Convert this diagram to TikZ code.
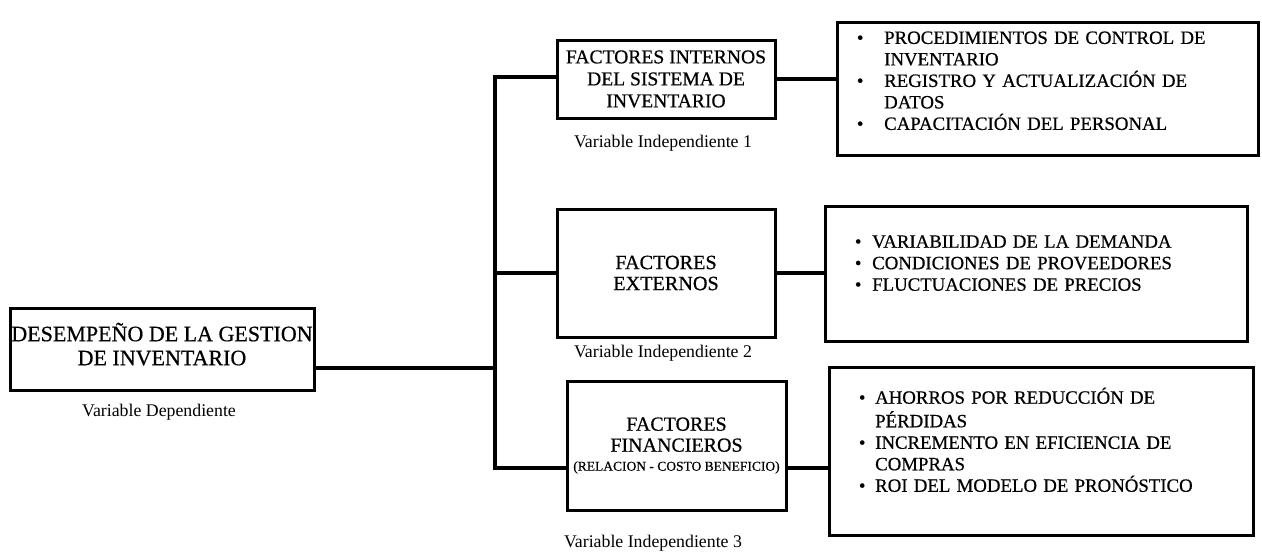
\documentclass[tikz,border=0pt]{standalone}
\usepackage{fontspec}
\setmainfont{Liberation Serif}
\newfontfamily\capsfont[FakeBold=0.6]{Liberation Serif}

\newlength{\bulhang}
\newcommand{\bul}[1]{\par\hangindent=\bulhang\hangafter=1\noindent\makebox[\bulhang][l]{\strut\textbullet}#1}

\tikzset{
    box/.style={draw, line width=3pt, inner sep=0pt, align=center},
    conn/.style={line width=4pt},
    listtext/.style={anchor=north west, inner sep=0pt, text width=390pt, align=left,
        font=\capsfont\fontsize{18.8}{21.5}\selectfont},
    varlabel/.style={font=\fontsize{17.8}{20}\selectfont}
}

\begin{document}
\begin{tikzpicture}[x=1pt, y=-1pt]
    \useasboundingbox (0,0) rectangle (1262,558);

    % dependiente
    \node[box, minimum width=304pt, minimum height=82pt, text depth=10pt, font=\capsfont\fontsize{22}{24}\selectfont]
        (main) at (162, 349) {DESEMPEÑO DE LA GESTION\\DE INVENTARIO};
    \node[varlabel] (lbl0) at (159, 412) {Variable Dependiente};

    % independientes
    \node[box, minimum width=218pt, minimum height=78pt, font=\capsfont\fontsize{19.6}{22}\selectfont]
        (box1) at (666, 79) {FACTORES INTERNOS\\DEL SISTEMA DE\\INVENTARIO};
    \node[varlabel] (lbl1) at (663, 143) {Variable Independiente 1};

    \node[box, minimum width=218pt, minimum height=128pt, font=\capsfont\fontsize{20.2}{21}\selectfont]
        (box2) at (666, 273) {FACTORES\\EXTERNOS};
    \node[varlabel] (lbl2) at (663, 353) {Variable Independiente 2};

    \node[box, minimum width=219pt, minimum height=129pt, font=\capsfont\fontsize{20}{21}\selectfont]
        (box3) at (676.5, 445.5) {FACTORES\\FINANCIEROS\\[-2pt]{\fontsize{13.5}{15}\selectfont (RELACION - COSTO BENEFICIO)}};
    \node[varlabel] (lbl3) at (653, 543) {Variable Independiente 3};

    % indicadores
    \node[box, minimum width=421pt, minimum height=133pt] (list1) at (1047.5, 88.5) {};
    \node[box, minimum width=422pt, minimum height=135pt] (list2) at (1036, 273.5) {};
    \node[box, minimum width=424pt, minimum height=168pt] (list3) at (1041, 451) {};

    \setlength{\bulhang}{27.3pt}
    \node[listtext] (txt1) at (856.7, 22.2) {%
        \bul{PROCEDIMIENTOS DE CONTROL DE\newline INVENTARIO}
        \bul{REGISTRO Y ACTUALIZACIÓN DE\newline DATOS}
        \bul{CAPACITACIÓN DEL PERSONAL}};
    \setlength{\bulhang}{17.3pt}
    \node[listtext] (txt2) at (854.7, 226) {%
        \bul{VARIABILIDAD DE LA DEMANDA}
        \bul{CONDICIONES DE PROVEEDORES}
        \bul{FLUCTUACIONES DE PRECIOS}};
    \setlength{\bulhang}{16.3pt}
    \node[listtext] (txt3) at (858.7, 382) {%
        \bul{AHORROS POR REDUCCIÓN DE\newline PÉRDIDAS}
        \bul{INCREMENTO EN EFICIENCIA DE\newline COMPRAS}
        \bul{ROI DEL MODELO DE PRONÓSTICO}};

    % conectores
    \coordinate (top) at (495, 77);
    \coordinate (mid) at (495, 273);
    \coordinate (j0)  at (495, 368);
    \coordinate (bot) at (495, 468);

    \draw[conn] (main.east |- j0) -- (j0);
    \draw[conn] (box1.west |- top) -- (top) -- (bot) -- (box3.west |- bot);
    \draw[conn] (mid) -- (box2.west);
    \draw[conn] (box1.east) -- (list1.west |- box1.east);
    \draw[conn] (box2.east) -- (list2.west |- box2.east);
    \draw[conn] (box3.east |- bot) -- (list3.west |- bot);
\end{tikzpicture}
\end{document}
